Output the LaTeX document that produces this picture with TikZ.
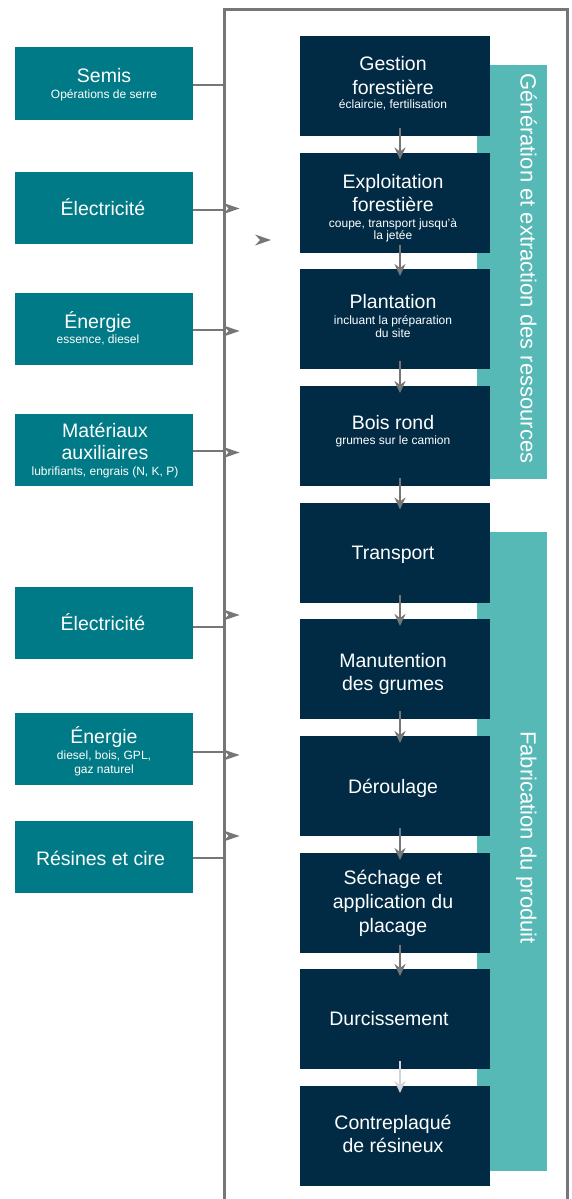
\documentclass[tikz,border=0pt]{standalone}
\usepackage{fontspec}
\setmainfont{Liberation Sans}
\usetikzlibrary{arrows.meta,calc}
\definecolor{navy}{RGB}{1,43,69}
\definecolor{tealbox}{RGB}{0,122,134}
\definecolor{bandc}{RGB}{87,185,182}
\definecolor{linec}{RGB}{118,118,118}
\definecolor{lightc}{RGB}{210,212,214}
\newcommand\mainf{\fontsize{19.5}{23.5}\selectfont}
\newcommand\subf{\fontsize{12}{13}\selectfont}
\newcommand\headat[1]{\fill[linec] ($(#1)+(0,-5.5)$) -- ($(#1)+(16,0)$) -- ($(#1)+(0,5.5)$) -- ($(#1)+(5,0)$) -- cycle;}
\begin{document}
\begin{tikzpicture}[x=1pt,y=-1pt,
  inbox/.style={fill=tealbox,draw=none,minimum width=178pt,minimum height=72pt,inner sep=0pt,outer sep=0pt},
  stepbox/.style={fill=navy,draw=none,minimum width=190pt,minimum height=100pt,inner sep=0pt,outer sep=0pt},
  lbl/.style={text=white,align=center,anchor=base,inner sep=0pt,font=\mainf},
  bandbox/.style={fill=bandc,draw=none},
  bandtxt/.style={text=white,rotate=-90,anchor=base,inner sep=0pt,font=\fontsize{22}{26}\selectfont},
  feed/.style={draw=linec,line width=2pt},
  flow/.style={draw=linec,line width=2pt,-{Stealth[length=12pt,width=11pt,inset=4pt]}},
  lastflow/.style={flow,draw=lightc}]
\useasboundingbox (0,0) rectangle (571,1199);
\clip (0,0) rectangle (571,1199);
\fill[white] (0,0) rectangle (571,1199);

% frame
\draw[linec,line width=3pt] (224,1215) -- (224,10) -- (567.5,10) -- (567.5,1215);

% bands
\fill[bandbox] (476.5,65) rectangle (547,479);
\fill[bandbox] (476.5,532) rectangle (547,1171);
\node[bandtxt] (bt1) at (520.5,268.5) {Génération et extraction des ressources};
\node[bandtxt] (bt2) at (520.5,837.5) {Fabrication du produit};

% left input boxes
\node[inbox] (L1) at (104,83.5) {};
\node[inbox] (L2) at (104,208) {};
\node[inbox] (L3) at (104,328.5) {};
\node[inbox] (L4) at (104,449.5) {};
\node[inbox] (L5) at (104,623) {};
\node[inbox] (L6) at (104,748.5) {};
\node[inbox] (L7) at (104,857) {};

\node[lbl] (lt1) at (104,99) {Semis\\[-6.5pt]{\subf Opérations de serre}};
\node[lbl] (lt2) at (103,215) {Électricité};
\node[lbl] (lt3) at (98,343) {Énergie\\[-8.5pt]{\subf essence, diesel}};
\node[lbl] (lt4) at (105,475) {Matériaux\\[-1.5pt]auxiliaires\\[-7.5pt]{\subf lubrifiants, engrais (N, K, P)}};
\node[lbl] (lt5) at (103,630) {Électricité};
\node[lbl] (lt6) at (104,773) {Énergie\\[-7.5pt]{\subf diesel, bois, GPL,}\\[-9.5pt]{\subf gaz naturel}};
\node[lbl] (lt7) at (100.5,865) {Résines et cire};

% connectors to the frame
\coordinate (j1) at (224,85);
\coordinate (j2) at (224,210);
\coordinate (j3) at (224,330);
\coordinate (j4) at (224,451);
\coordinate (j5) at (224,627);
\coordinate (j6) at (224,752);
\coordinate (j7) at (224,858);
\draw[feed] (L1.east |- j1) -- (j1);
\draw[feed] (L2.east |- j2) -- (j2);
\draw[feed] (L3.east |- j3) -- (j3);
\draw[feed] (L4.east |- j4) -- (j4);
\draw[feed] (L5.east |- j5) -- (j5);
\draw[feed] (L6.east |- j6) -- (j6);
\draw[feed] (L7.east |- j7) -- (j7);

% arrow heads on the frame
\coordinate (h2) at (223.5,208.5);
\coordinate (h3) at (223.5,331);
\coordinate (h4) at (223.5,452.5);
\coordinate (h5) at (223.5,615);
\coordinate (h6) at (223.5,755);
\coordinate (h7) at (223.5,836);
\coordinate (hx) at (255,240);
\headat{h2}
\headat{h3}
\headat{h4}
\headat{h5}
\headat{h6}
\headat{h7}
\headat{hx}

% process steps
\node[stepbox] (D1) at (395,86) {};
\node[stepbox] (D2) at (395,202.5) {};
\node[stepbox] (D3) at (395,319) {};
\node[stepbox] (D4) at (395,436) {};
\node[stepbox] (D5) at (395,552.5) {};
\node[stepbox] (D6) at (395,669) {};
\node[stepbox] (D7) at (395,786) {};
\node[stepbox] (D8) at (395,903) {};
\node[stepbox] (D9) at (395,1019) {};
\node[stepbox] (D10) at (395,1136) {};

\node[lbl] (dt1) at (393,108) {Gestion\\[0.5pt]forestière\\[-9.5pt]{\subf éclaircie, fertilisation}};
\node[lbl] (dt2) at (393,239) {Exploitation\\[-0.5pt]forestière\\[-7.5pt]{\subf coupe, transport jusqu'à}\\[-11.5pt]{\subf la jetée}};
\node[lbl] (dt3) at (393,337) {Plantation\\[-7.5pt]{\subf incluant la préparation}\\[-10.5pt]{\subf du site}};
\node[lbl] (dt4) at (393,444) {Bois rond\\[-8.5pt]{\subf grumes sur le camion}};
\node[lbl] (dt5) at (393,559) {Transport};
\node[lbl] (dt6) at (393,690) {Manutention\\[-0.5pt]des grumes};
\node[lbl] (dt7) at (393,793) {Déroulage};
\node[lbl] (dt8) at (393,932) {Séchage et\\[0.5pt]application du\\[0.5pt]placage};
\node[lbl] (dt9) at (389,1025) {Durcissement};
\node[lbl] (dt10) at (393,1152) {Contreplaqué\\[-0.5pt]de résineux};

% flow arrows
\foreach \a/\b in {D1/D2,D2/D3,D3/D4,D4/D5,D5/D6,D6/D7,D7/D8,D8/D9}{
  \draw[flow] ($(\a.south)+(5,-8)$) -- ($(\b.north)+(5,7)$);
}
\draw[lastflow] ($(D9.south)+(5,-8)$) -- ($(D10.north)+(5,7)$);
\end{tikzpicture}
\end{document}
